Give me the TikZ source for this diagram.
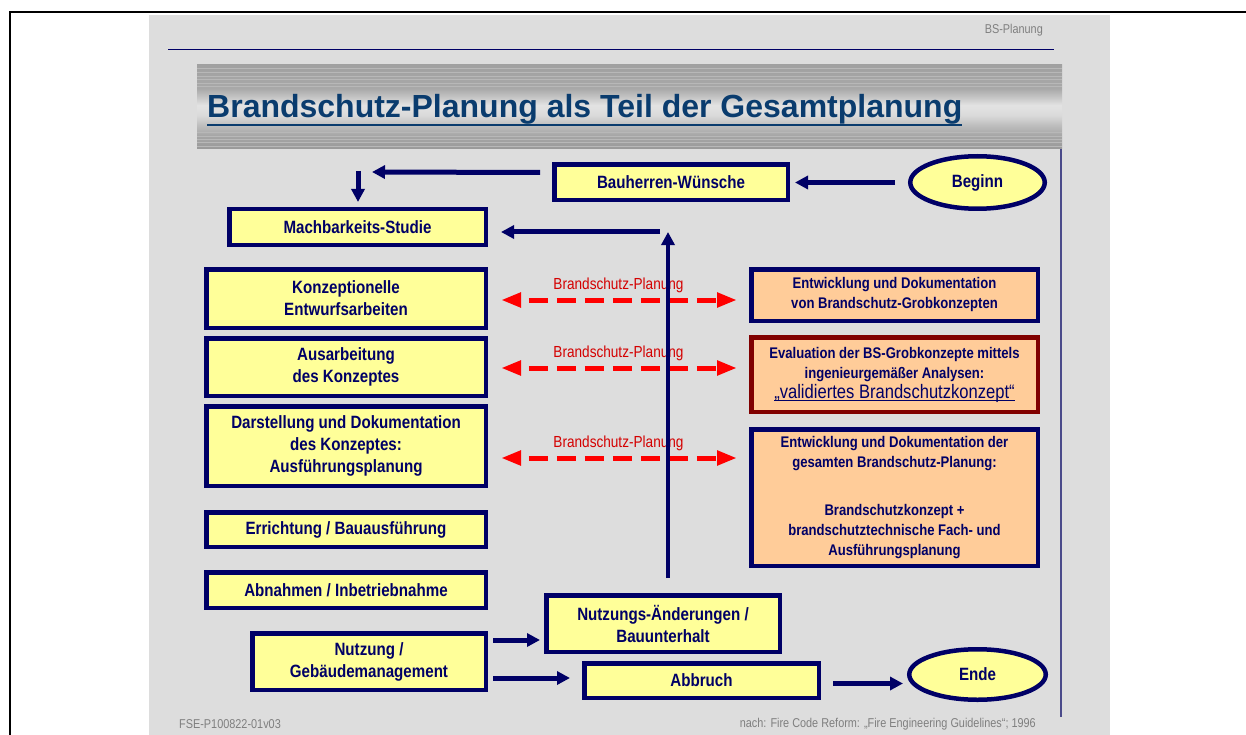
\documentclass[tikz,border=0pt]{standalone}
\usepackage{fontspec}
\usepackage{xcolor}
\usetikzlibrary{arrows.meta,shapes.geometric}
\setmainfont{Liberation Sans}
\newfontfamily\narrowfont{Liberation Sans}[FakeStretch=0.85]
\newsavebox{\strichbox}
\newcommand{\unterstrich}[1]{\sbox{\strichbox}{#1}\rlap{\rule[-3pt]{\wd\strichbox}{1.2pt}}\usebox{\strichbox}}

\definecolor{navy}{HTML}{000066}
\definecolor{boxyellow}{HTML}{FFFF99}
\definecolor{boxorange}{HTML}{FFCC99}
\definecolor{darkred}{HTML}{800000}
\definecolor{slidegray}{HTML}{DDDDDD}
\definecolor{titleblue}{HTML}{0A3C6E}
\definecolor{bsred}{HTML}{FF0000}
\definecolor{labelred}{HTML}{D40000}
\definecolor{footgray}{HTML}{7F7F7F}
\definecolor{stripegray}{HTML}{B8B8B8}
\definecolor{rulenavy}{HTML}{4A4A8A}

\pgfdeclareverticalshading{titleband}{100bp}{
	rgb(0bp)=(0.6,0.6,0.6);
	rgb(25bp)=(0.6,0.6,0.6);
	rgb(33bp)=(0.65,0.65,0.65);
	rgb(39bp)=(0.74,0.74,0.74);
	rgb(45bp)=(0.855,0.855,0.855);
	rgb(51bp)=(0.89,0.89,0.89);
	rgb(56bp)=(0.77,0.77,0.77);
	rgb(61bp)=(0.66,0.66,0.66);
	rgb(75bp)=(0.63,0.63,0.63);
	rgb(100bp)=(0.63,0.63,0.63)}

\newcommand{\boxfont}{\narrowfont\bfseries\fontsize{17.8}{22}\selectfont}
\newcommand{\bsfont}{\narrowfont\bfseries\fontsize{15.4}{20}\selectfont}
\newcommand{\footfont}{\narrowfont\fontsize{12.8}{15}\selectfont}

\tikzset{
	stage/.style={draw=navy, line width=4.5pt, fill=boxyellow, text=navy,
		align=center, inner sep=0pt, font=\boxfont},
	oval/.style={stage, ellipse},
	concept/.style={stage, fill=boxorange, font=\bsfont},
	flow/.style={navy, line width=5pt, -{Triangle[length=13pt,width=13pt]}},
	bsflow/.style={bsred, line width=5pt, dash pattern=on 19pt off 9pt, dash phase=19pt,
		{Triangle[length=20pt,width=14pt]}-{Triangle[length=20pt,width=14pt]},
		shorten <=13pt, shorten >=12pt},
	bslabel/.style={text=labelred, inner sep=0pt, font=\narrowfont\fontsize{16}{18}\selectfont},
	foot/.style={text=footgray, inner sep=0pt, font=\footfont}
}

\begin{document}
\begin{tikzpicture}[x=1pt,y=-1pt]
	\useasboundingbox (0,0) rectangle (1246,735);
	\fill[slidegray] (149,15) rectangle (1110,735);
	\draw[black, line width=2.5pt] (10,735) -- (10,12) -- (1246,12);
	
	\node (kopf)[foot, anchor=base east] at (1043,34) {BS-Planung};
	\draw[navy, line width=1pt] (168,50) -- (1054,50);
	\draw[rulenavy, line width=1.2pt] (1061,110) -- (1061,717);
	
	\shade[shading=titleband] (197,65) rectangle (1062,149);
	\foreach \y in {68,72,76,79,83,86,132,136,139,142,146}
		\draw[stripegray, line width=0.8pt] (197,\y) -- (1062,\y);
	\node (title)[anchor=base west, inner sep=0pt, text=titleblue,
		font=\bfseries\fontsize{32}{36}\selectfont] at (207,118)
		{Brandschutz-Planung als Teil der Gesamtplanung};
	\draw[titleblue, line width=2.5pt]
		([yshift=-7pt]title.base west) -- ([yshift=-7pt]title.base east);
	
	\node (bauherr)[stage, minimum width=233.5pt, minimum height=35.5pt] at (671,182.5) {Bauherren-Wünsche};
	\node (beginn)[oval, minimum width=134.5pt, minimum height=52.5pt] at (977.5,182.5) {Beginn};
	\node (machbar)[stage, minimum width=256.5pt, minimum height=35.5pt] at (357.5,227) {Machbarkeits-Studie};
	\node (konzept)[stage, minimum width=279.5pt, minimum height=58.5pt] at (346,298.5) {Konzeptionelle\\Entwurfsarbeiten};
	\node (ausarb)[stage, minimum width=279.5pt, minimum height=57.5pt] at (346,367) {Ausarbeitung\\des Konzeptes};
	\node (darst)[stage, minimum width=279.5pt, minimum height=79.5pt] at (346,446) {Darstellung und Dokumentation\\des Konzeptes:\\Ausführungsplanung};
	\node (erricht)[stage, minimum width=279.5pt, minimum height=34.5pt] at (346,529.5) {Errichtung / Bauausführung};
	\node (abnahme)[stage, minimum width=279.5pt, minimum height=35.5pt] at (346,590) {Abnahmen / Inbetriebnahme};
	\node (nutzung)[stage, minimum width=233.5pt, minimum height=56.5pt] at (369,661.5) {Nutzung /\\Gebäudemanagement};
	\node (aenderung)[stage, minimum width=233.5pt, minimum height=56.5pt] at (663,623.5) {Nutzungs-Änderungen /\\Bauunterhalt};
	\node (abbruch)[stage, minimum width=234.5pt, minimum height=34.5pt] at (701.5,680.5) {Abbruch};
	\node (ende)[oval, minimum width=136.5pt, minimum height=50.5pt] at (977.5,674.5) {Ende};
	
	\node (grob)[concept, minimum width=286.5pt, minimum height=51.5pt] at (894.5,295)
		{Entwicklung und Dokumentation\\von Brandschutz-Grobkonzepten};
	\node (eval)[concept, draw=darkred, minimum width=286.5pt, minimum height=74.5pt] at (894.5,374.5)
		{Evaluation der BS-Grobkonzepte mittels\\ingenieurgemäßer Analysen:\\
		{\mdseries\fontsize{19.5}{22}\selectfont\unterstrich{„validiertes Brandschutzkonzept“}}};
	\node (gesamt)[concept, minimum width=286.5pt, minimum height=136.5pt] at (894.5,497.5)
		{Entwicklung und Dokumentation der\\gesamten Brandschutz-Planung:\\[28pt]
		Brandschutzkonzept +\\brandschutztechnische Fach- und\\Ausführungsplanung};
	
	\coordinate (knick) at (372,172);
	\coordinate (runter) at (358,171);
	\coordinate (zurueck) at (668,232);
	
	\draw[flow, shorten <=13pt, shorten >=5pt] (beginn) -- (bauherr);
	\draw[flow] ([xshift=-12pt,yshift=10pt]bauherr.west) -- (knick);
	\draw[flow, shorten >=5pt] (runter) -- (runter |- machbar.north);
	\draw[flow, shorten >=13pt] ([xshift=-8pt]zurueck) -- (zurueck -| machbar.east);
	
	\draw[bsflow] ([yshift=-1.5pt]konzept.east) -- ([yshift=-1.5pt]konzept.east -| grob.west)
		node[bslabel, midway, above=5pt] {Brandschutz-Planung};
	\draw[bsflow] ([yshift=-1pt]ausarb.east) -- ([yshift=-1pt]ausarb.east -| eval.west)
		node[bslabel, midway, above=5pt] {Brandschutz-Planung};
	\draw[bsflow] ([yshift=-12pt]darst.east) -- ([yshift=-12pt]darst.east -| gesamt.west)
		node[bslabel, midway, above=5pt] {Brandschutz-Planung};
	
	\draw[flow, line width=4pt] ([xshift=5pt,yshift=15pt]aenderung.north) -- (zurueck);
	
	\draw[flow, shorten <=5pt, shorten >=4pt] ([yshift=21.5pt]nutzung.east) -- ([yshift=21.5pt]nutzung.east -| aenderung.west);
	\draw[flow, shorten <=5pt, shorten >=12pt] ([yshift=-16.5pt]nutzung.east) -- ([yshift=-16.5pt]nutzung.east -| abbruch.west);
	\draw[flow, shorten <=12pt, shorten >=4pt] ([yshift=-3pt]abbruch.east) -- ([yshift=-3pt]abbruch.east -| ende.west);
	
	\node (kennung)[foot, anchor=base west] at (179,728) {FSE-P100822-01v03};
	\node (quelle)[foot, anchor=base east] at (1036,727) {nach: Fire Code Reform: „Fire Engineering Guidelines“; 1996};
\end{tikzpicture}
\end{document}
